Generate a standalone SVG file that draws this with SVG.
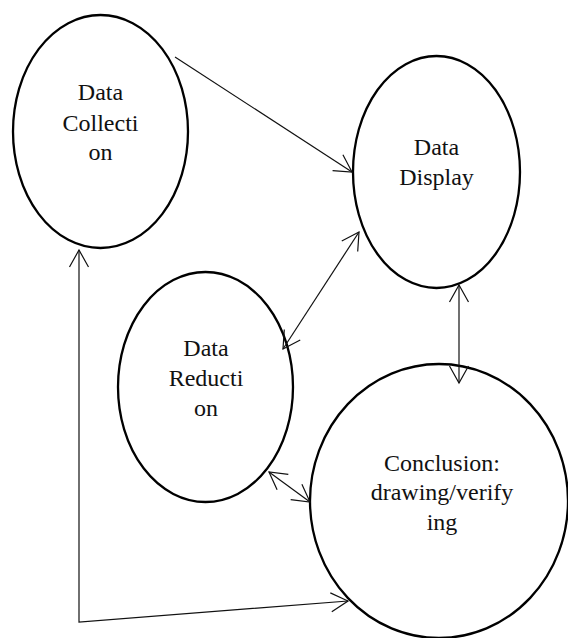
<svg xmlns="http://www.w3.org/2000/svg" width="568" height="638" viewBox="0 0 568 638">
<style>
.node ellipse{fill:#fff;stroke:#000;stroke-width:2.3}
.node text{font-family:"Liberation Serif","Times New Roman",serif;font-size:24px;fill:#111;text-anchor:middle}
.conn path{fill:none;stroke:#111;stroke-width:1.2}
</style>
<defs>
<marker id="ah" markerUnits="userSpaceOnUse" viewBox="-20 -12 22 24" refX="0" refY="0" markerWidth="22" markerHeight="24" orient="auto-start-reverse" overflow="visible">
<path d="M-17,-9.5 L0,0 L-17,9.5" fill="none" stroke="#111" stroke-width="1.2"/>
</marker>
</defs>
<rect width="568" height="638" fill="#fff"/>
<g id="n-collection" class="node">
<ellipse cx="100.5" cy="131.5" rx="87.5" ry="116.5"/>
<text x="100.5" y="100">Data</text>
<text x="100.5" y="130.5">Collecti</text>
<text x="100.5" y="159.5">on</text>
</g>
<g id="n-display" class="node">
<ellipse cx="436.5" cy="172" rx="83.5" ry="116"/>
<text x="436.5" y="155">Data</text>
<text x="436.5" y="185">Display</text>
</g>
<g id="n-reduction" class="node">
<ellipse cx="205.5" cy="387" rx="87.5" ry="115"/>
<text x="206" y="355.5">Data</text>
<text x="206" y="386">Reducti</text>
<text x="206" y="415.5">on</text>
</g>
<g id="n-conclusion" class="node">
<ellipse cx="439" cy="501" rx="129" ry="137"/>
<text x="442" y="470.5">Conclusion:</text>
<text x="442" y="500">drawing/verify</text>
<text x="442" y="529.5">ing</text>
</g>
<g id="connectors" class="conn">
<path d="M175,57 L352,172" marker-end="url(#ah)"/>
<path d="M283,349 L359,232" marker-start="url(#ah)" marker-end="url(#ah)"/>
<path d="M459,285 L459,383" marker-start="url(#ah)" marker-end="url(#ah)"/>
<path d="M269,472 L310,502" marker-start="url(#ah)" marker-end="url(#ah)"/>
<path d="M79,250 L79,622 L348,601" marker-start="url(#ah)" marker-end="url(#ah)"/>
</g>
</svg>
